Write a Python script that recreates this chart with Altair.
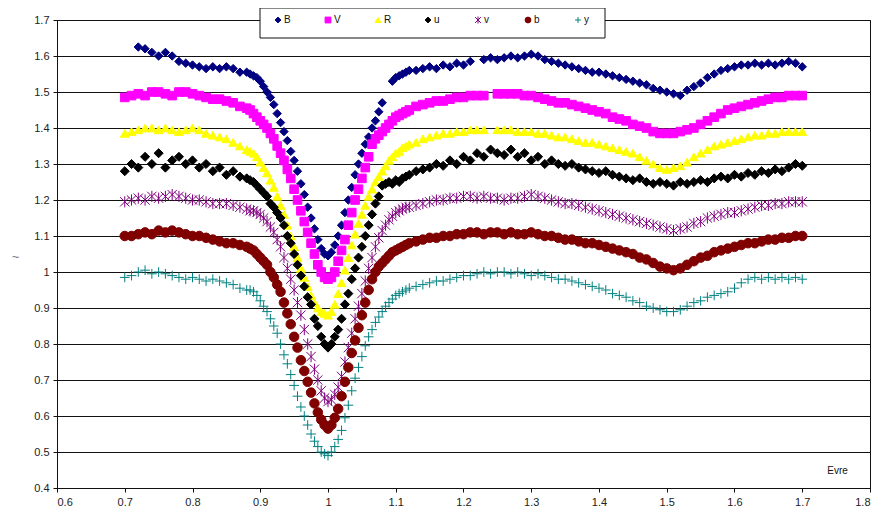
import altair as alt
import pandas as pd

# Phase sampling grid: 0.70-0.87 (step 0.01), 0.880-1.120 (step 0.005), 1.13-1.70 (step 0.01)
PHASE = ([round(0.70 + 0.01 * i, 3) for i in range(18)]
         + [round(0.88 + 0.005 * i, 3) for i in range(49)]
         + [round(1.13 + 0.01 * i, 3) for i in range(58)])

SERIES = ["B", "V", "R", "u", "v", "b", "y"]
COLORS = ["#000080", "#FF00FF", "#FFFF00", "#000000", "#800080", "#800000", "#008080"]

B = [None, None, 1.625, 1.62, 1.61, 1.60, 1.61, 1.60, 1.585, 1.58,
     1.575, 1.57, 1.565, 1.57, 1.565, 1.57, 1.565, 1.555,
     1.555, 1.55, 1.545, 1.54, 1.53, 1.515, 1.50, 1.485, 1.465, 1.44,
     1.415, 1.39, 1.365, 1.335, 1.31, 1.28, 1.245, 1.215, 1.18, 1.15,
     1.12, 1.09, 1.065, 1.05, 1.045, 1.055, 1.075, 1.10, 1.13, 1.165,
     1.20, 1.235, 1.27, 1.30, 1.33, 1.355, 1.375, 1.40, 1.42, 1.445,
     1.47, None, None, 1.53, 1.54, 1.545, 1.55, 1.555, 1.56,
     1.56, 1.565, 1.57, 1.565, 1.575, 1.57, 1.58,
     1.575, 1.585, None, 1.59, 1.595, 1.59, 1.595, 1.60, 1.595, 1.60,
     1.605, 1.60, 1.59, 1.585, 1.58, 1.575, 1.57, 1.565, 1.56, 1.555,
     1.555, 1.55, 1.545, 1.54, 1.535, 1.53, 1.525, 1.52, 1.51, 1.505,
     1.50, 1.495, 1.49, 1.505, 1.515, 1.525, 1.54, 1.55, 1.56, 1.565,
     1.57, 1.575, 1.575, 1.58, 1.575, 1.58, 1.575, 1.58, 1.585, 1.58,
     1.57]

V = [1.485, 1.49, 1.495, 1.49, 1.50, 1.50, 1.495, 1.49, 1.50, 1.50,
     1.495, 1.49, 1.485, 1.48, 1.48, 1.475, 1.47, 1.46,
     1.455, 1.45, 1.44, 1.43, 1.42, 1.41, 1.40, 1.385, 1.37, 1.35,
     1.33, 1.31, 1.285, 1.26, 1.23, 1.20, 1.17, 1.14, 1.11, 1.08,
     1.05, 1.02, 1.00, 0.985, 0.98, 0.985, 1.00, 1.03, 1.06, 1.09,
     1.13, 1.165, 1.20, 1.23, 1.26, 1.29, 1.32, 1.355, 1.37, 1.38,
     1.39, 1.40, 1.41, 1.42, 1.43, 1.435, 1.44, 1.445, 1.45,
     1.46, 1.465, 1.47, 1.475, 1.475, 1.48, 1.485,
     1.485, 1.49, 1.49, 1.49, None, 1.495, 1.495, 1.495, 1.495, 1.49,
     1.49, 1.485, 1.48, 1.475, 1.47, 1.47, 1.465, 1.46, 1.455, 1.45,
     1.445, 1.44, 1.43, 1.425, 1.42, 1.41, 1.405, 1.40, 1.39, 1.385,
     1.385, 1.385, 1.39, 1.395, 1.40, 1.41, 1.42, 1.43, 1.44, 1.45,
     1.455, 1.46, 1.465, 1.47, 1.475, 1.48, 1.485, 1.485, 1.49, 1.49,
     1.49]

R = [1.385, 1.39, 1.395, 1.40, 1.40, 1.395, 1.40, 1.395, 1.39, 1.395,
     1.40, 1.395, 1.385, 1.38, 1.375, 1.37, 1.36, 1.35,
     1.34, 1.335, 1.33, 1.32, 1.305, 1.29, 1.275, 1.255, 1.235, 1.21,
     1.185, 1.16, 1.13, 1.10, 1.07, 1.04, 1.01, 0.985, 0.96, 0.935,
     0.915, 0.90, 0.89, 0.885, 0.88, 0.89, 0.91, 0.94, 0.97, 1.005,
     1.04, 1.075, 1.105, 1.135, 1.16, 1.185, 1.21, 1.23, 1.25, 1.265,
     1.28, 1.295, 1.31, 1.32, 1.33, 1.335, 1.345, 1.35, 1.355,
     1.36, 1.37, 1.375, 1.38, 1.385, 1.385, 1.39,
     1.39, 1.395, 1.395, 1.395, None, 1.395, 1.395, 1.395, 1.39, 1.39,
     1.39, 1.385, 1.385, 1.38, 1.375, 1.375, 1.37, 1.365, 1.36, 1.36,
     1.355, 1.35, 1.345, 1.34, 1.335, 1.33, 1.32, 1.31, 1.30, 1.29,
     1.285, 1.29, 1.295, 1.305, 1.32, 1.33, 1.34, 1.35, 1.355, 1.36,
     1.365, 1.37, 1.375, 1.38, 1.38, 1.385, 1.385, 1.39, 1.39, 1.39,
     1.39]

U = [1.28, 1.30, 1.29, 1.32, 1.30, 1.33, 1.29, 1.31, 1.32, 1.30,
     1.31, 1.29, 1.30, 1.28, 1.29, 1.27, 1.28, 1.265,
     1.26, 1.255, 1.25, 1.24, 1.23, 1.22, 1.21, 1.19, 1.18, 1.165,
     1.15, 1.13, 1.10, 1.08, 1.05, 1.02, 0.99, 0.96, 0.93, 0.91,
     0.87, 0.85, 0.82, 0.80, 0.79, 0.80, 0.82, 0.84, 0.87, 0.91,
     0.94, 0.98, 1.01, 1.04, 1.07, 1.10, 1.13, 1.16, 1.19, 1.21,
     1.24, 1.245, 1.25, 1.245, 1.255, 1.25, 1.26, 1.265, 1.27,
     1.28, 1.285, 1.29, 1.30, 1.295, 1.31, 1.30,
     1.32, 1.31, 1.33, 1.32, 1.34, 1.33, 1.325, 1.34, 1.32, 1.33,
     1.31, 1.32, 1.30, 1.31, 1.30, 1.295, 1.30, 1.29, 1.285, 1.28,
     1.275, 1.28, 1.27, 1.265, 1.26, 1.255, 1.26, 1.25, 1.245, 1.25,
     1.245, 1.24, 1.25, 1.245, 1.25, 1.255, 1.25, 1.26, 1.265, 1.26,
     1.27, 1.265, 1.275, 1.27, 1.28, 1.275, 1.285, 1.28, 1.29, 1.30,
     1.295]

VS = [1.195, 1.20, 1.205, 1.20, 1.21, 1.205, 1.21, 1.215, 1.21, 1.205,
      1.20, 1.20, 1.195, 1.19, 1.19, 1.19, 1.185, 1.18,
      1.175, 1.17, 1.17, 1.165, 1.16, 1.15, 1.14, 1.125, 1.11, 1.09,
      1.07, 1.04, 1.01, 0.98, 0.95, 0.915, 0.88, 0.84, 0.80, 0.765,
      0.73, 0.70, 0.67, 0.65, 0.64, 0.645, 0.66, 0.68, 0.71, 0.75,
      0.79, 0.83, 0.87, 0.905, 0.94, 0.975, 1.01, 1.04, 1.07, 1.095,
      1.115, 1.13, 1.145, 1.155, 1.165, 1.17, 1.175, 1.18, 1.18,
      1.185, 1.19, 1.195, 1.20, 1.20, 1.205, 1.205,
      1.21, 1.21, 1.205, 1.21, 1.205, 1.205, 1.20, 1.205, 1.205, 1.21,
      1.215, 1.21, 1.205, 1.20, 1.195, 1.19, 1.19, 1.185, 1.18, 1.175,
      1.17, 1.165, 1.16, 1.155, 1.15, 1.145, 1.14, 1.135, 1.13, 1.125,
      1.12, 1.115, 1.12, 1.125, 1.135, 1.14, 1.15, 1.155, 1.16, 1.165,
      1.165, 1.17, 1.175, 1.18, 1.185, 1.185, 1.19, 1.19, 1.195, 1.195,
      1.195]

BS = [1.10, 1.10, 1.105, 1.11, 1.105, 1.115, 1.11, 1.115, 1.11, 1.105,
      1.10, 1.10, 1.095, 1.09, 1.085, 1.08, 1.08, 1.075,
      1.07, 1.065, 1.06, 1.05, 1.04, 1.03, 1.02, 1.00, 0.985, 0.965,
      0.945, 0.915, 0.885, 0.855, 0.82, 0.79, 0.755, 0.725, 0.695, 0.665,
      0.635, 0.61, 0.59, 0.575, 0.565, 0.575, 0.595, 0.62, 0.655, 0.695,
      0.735, 0.775, 0.81, 0.845, 0.88, 0.915, 0.95, 0.98, 1.00, 1.015,
      1.025, 1.035, 1.045, 1.055, 1.06, 1.065, 1.07, 1.075, 1.08,
      1.085, 1.09, 1.095, 1.095, 1.10, 1.10, 1.105,
      1.105, 1.11, 1.11, 1.105, 1.11, 1.11, 1.105, 1.11, 1.105, 1.105,
      1.11, 1.105, 1.10, 1.10, 1.095, 1.09, 1.09, 1.085, 1.08, 1.08,
      1.075, 1.07, 1.065, 1.06, 1.055, 1.05, 1.04, 1.035, 1.025, 1.015,
      1.01, 1.005, 1.01, 1.02, 1.03, 1.04, 1.045, 1.055, 1.06, 1.065,
      1.07, 1.075, 1.08, 1.08, 1.085, 1.09, 1.09, 1.095, 1.095, 1.10,
      1.10]

YS = [0.985, 0.99, 1.00, 1.005, 0.995, 1.00, 0.995, 0.99, 0.985, 0.98,
      0.985, 0.98, 0.975, 0.98, 0.975, 0.97, 0.965, 0.955,
      0.95, 0.95, 0.945, 0.935, 0.92, 0.905, 0.89, 0.87, 0.85, 0.83,
      0.80, 0.77, 0.745, 0.715, 0.685, 0.655, 0.625, 0.60, 0.575, 0.55,
      0.53, 0.515, 0.50, 0.495, 0.49, 0.50, 0.515, 0.535, 0.56, 0.595,
      0.63, 0.67, 0.705, 0.735, 0.765, 0.795, 0.82, 0.84, 0.86, 0.875,
      0.89, 0.905, 0.915, 0.925, 0.935, 0.94, 0.945, 0.95, 0.955,
      0.96, 0.965, 0.97, 0.975, 0.975, 0.98, 0.985,
      0.99, 0.99, 0.995, 1.00, 0.995, 1.00, 1.00, 0.995, 1.00, 0.995,
      0.99, 0.995, 0.99, 0.985, 0.98, 0.98, 0.975, 0.97, 0.965, 0.96,
      0.955, 0.95, 0.94, 0.935, 0.93, 0.92, 0.915, 0.905, 0.90, 0.895,
      0.89, 0.89, 0.895, 0.905, 0.915, 0.92, 0.93, 0.935, 0.94, 0.945,
      0.955, 0.97, 0.98, 0.985, 0.98, 0.985, 0.98, 0.985, 0.98, 0.985,
      0.98]

X_TICKS = [0.6, 0.7, 0.8, 0.9, 1.0, 1.1, 1.2, 1.3, 1.4, 1.5, 1.6, 1.7, 1.8]
Y_TICKS = [0.4, 0.5, 0.6, 0.7, 0.8, 0.9, 1.0, 1.1, 1.2, 1.3, 1.4, 1.5, 1.6, 1.7]

ASTERISK = "M-1,-1L1,1M-1,1L1,-1M0,-1.2L0,1.2"
PLUS = "M-1,0L1,0M0,-1L0,1"
SHAPES = ["diamond", "square", "triangle-up", "diamond", ASTERISK, "circle", PLUS]
SIZES = [70, 95, 90, 18, 55, 85, 65]

rows = []
for name, vals in zip(SERIES, [B, V, R, U, VS, BS, YS]):
    n = min(len(vals), len(PHASE))
    for i in range(n):
        if vals[i] is not None:
            rows.append({"series": name, "phase": PHASE[i], "flux": vals[i]})
df = pd.DataFrame(rows)

fill_scale = alt.Scale(domain=SERIES, range=COLORS)
shape_scale = alt.Scale(domain=SERIES, range=SHAPES)

points = alt.Chart(df).mark_point(filled=True, strokeWidth=1, opacity=1).encode(
    x=alt.X("phase:Q",
            scale=alt.Scale(domain=[0.6, 1.8], nice=False, zero=False),
            axis=alt.Axis(values=X_TICKS, format="~g", grid=False, title="Evre",
                          titleX=780, titleY=-18, titleAlign="center",
                          titleBaseline="middle", titleFontWeight="normal",
                          titleFontSize=10, titleColor="#111", labelPadding=4)),
    y=alt.Y("flux:Q",
            scale=alt.Scale(domain=[0.4, 1.7], nice=False, zero=False),
            axis=alt.Axis(values=Y_TICKS, format="~g", grid=True,
                          gridColor="#111", gridWidth=1, title="~", titleAngle=0,
                          titleX=-42, titleY=236, titleAlign="center",
                          titleBaseline="middle", titleFontWeight="normal",
                          titleFontSize=13, titleColor="#777", labelPadding=4)),
    fill=alt.Fill("series:N", scale=fill_scale, legend=None),
    stroke=alt.Stroke("series:N", scale=fill_scale, legend=None),
    shape=alt.Shape("series:N", scale=shape_scale, legend=None),
    size=alt.Size("series:N", scale=alt.Scale(domain=SERIES, range=SIZES), legend=None),
)

# Legend (box + entries) drawn as its own layer
leg_df = pd.DataFrame({"series": SERIES})
leg_x = alt.X("series:N", scale=alt.Scale(type="point", domain=SERIES, range=[221, 521], padding=0),
              axis=None)

leg_box = alt.Chart(pd.DataFrame({"k": [0]})).mark_rect(
    fill="white", stroke="#111", strokeWidth=1
).encode(x=alt.value(203), x2=alt.value(548), y=alt.value(-12), y2=alt.value(18))

leg_sym = alt.Chart(leg_df).mark_point(filled=True, strokeWidth=1, opacity=1).encode(
    x=leg_x, y=alt.value(0),
    fill=alt.Fill("series:N", scale=fill_scale, legend=None),
    stroke=alt.Stroke("series:N", scale=fill_scale, legend=None),
    shape=alt.Shape("series:N", scale=shape_scale, legend=None),
    size=alt.value(34),
)

leg_txt = alt.Chart(leg_df).mark_text(
    align="left", baseline="middle", dx=6, font="Liberation Sans", fontSize=10, color="#111"
).encode(x=leg_x, y=alt.value(0), text="series:N")

chart = alt.layer(points, leg_box, leg_sym, leg_txt).resolve_scale(
    x="independent"
).properties(
    width=813, height=468,
    autosize=alt.AutoSizeParams(type="none"),
    padding={"left": 49, "top": 12, "right": 6, "bottom": 24},
).configure_view(
    stroke="#111", strokeWidth=1
).configure_axis(
    labelFont="Liberation Sans", labelFontSize=11, labelColor="#222",
    titleFont="Liberation Sans", domainColor="#111", tickColor="#111",
    tickSize=4, domainWidth=1,
)

chart.save("out.html", embed_options={"renderer": "svg", "actions": False})
